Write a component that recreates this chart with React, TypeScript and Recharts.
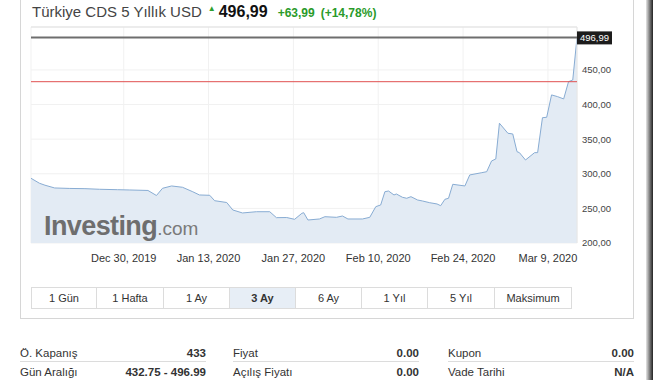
import { Area, AreaChart, CartesianGrid, ReferenceLine, XAxis, YAxis } from "recharts";

const FONT = "'Liberation Sans', Arial, sans-serif";

// day offsets from Dec 30, 2019 and CDS level
const days = [
  -15.3, -13.9, -13.0, -11.4, -8.9, -6.4, -4.0, -1.0, 1.0, 4.0, 5.4, 6.4, 7.9, 9.7, 11.4, 12.5,
  14.2, 15.0, 17.0, 18.0, 19.6, 21.9, 24.1, 25.2, 26.9, 28.2, 29.4, 29.7, 30.4, 32.3, 33.2, 35.1,
  36.1, 37.0, 39.4, 40.6, 41.6, 42.4, 43.1, 43.7, 44.6, 45.0, 46.0, 46.7, 47.4, 48.5, 49.3, 50.5,
  51.7, 52.3, 53.0, 53.6, 54.3, 56.3, 57.1, 59.1, 59.9, 60.7, 61.4, 62.0, 63.4, 64.2, 64.9, 65.3,
  66.3, 67.8, 68.3, 69.1, 69.8, 70.6, 71.6, 72.6, 73.4, 74.1, 74.8,
];
const cds = [
  293.5, 286.3, 283.5, 279.5, 278.8, 278.5, 277.6, 277.0, 276.6, 275.9, 268.6, 279.0, 282.4, 280.5, 274.0, 269.4,
  268.9, 261.1, 258.5, 247.7, 243.4, 245.2, 245.2, 236.6, 236.8, 234.2, 242.9, 243.8, 233.2, 234.7, 238.0, 237.1,
  239.0, 234.7, 234.7, 237.1, 252.5, 254.9, 274.1, 275.1, 269.4, 270.8, 266.0, 264.6, 266.9, 262.1, 260.7, 258.2,
  256.4, 253.9, 263.1, 264.6, 284.8, 282.4, 298.3, 301.6, 303.0, 318.5, 321.4, 373.0, 358.5, 357.5, 331.9, 330.5,
  319.9, 330.5, 330.5, 381.0, 381.6, 413.9, 411.4, 408.1, 433.0, 435.5, 496.99,
];

const dateTicks = [0, 14, 28, 42, 56, 70];
const dateLabels = ["Dec 30, 2019", "Jan 13, 2020", "Jan 27, 2020", "Feb 10, 2020", "Feb 24, 2020", "Mar 9, 2020"];
const priceTicks = [200, 250, 300, 350, 400, 450];
const lastPrice = 496.99;
const prevClose = 433;

const ranges = ["1 Gün", "1 Hafta", "1 Ay", "3 Ay", "6 Ay", "1 Yıl", "5 Yıl", "Maksimum"];
const rangeWidths = [65, 67, 66, 66, 66, 66, 67, 77];
const activeRange = "3 Ay";

const statLabels = [
  ["Ö. Kapanış", "Fiyat", "Kupon"],
  ["Gün Aralığı", "Açılış Fiyatı", "Vade Tarihi"],
];
const statValues = [
  ["433", "0.00", "0.00"],
  ["432.75 - 496.99", "0.00", "N/A"],
];
const statCols = [20, 233, 448];
const statWidth = 186;

const data = days.map((d, i) => ({ d, v: cds[i] }));

const comma = (n: number) => n.toFixed(2).replace(".", ",");

function PriceTag(props: any) {
  const vb = props.viewBox;
  const x = vb.x + vb.width;
  return (
    <g>
      <rect x={x} y={vb.y - 6} width={35} height={13} fill="#1c1c1c" />
      <text x={x + 17.5} y={vb.y + 3.5} textAnchor="middle" fill="#fff" fontSize={9.5} fontFamily={FONT}>
        {comma(lastPrice)}
      </text>
    </g>
  );
}

export default function App() {
  return (
    <div
      style={{
        position: "absolute",
        left: 0,
        top: 0,
        width: 660,
        height: 380,
        background: "#fff",
        fontFamily: FONT,
        overflow: "hidden",
        color: "#333",
      }}
    >
      <div
        style={{
          position: "absolute",
          left: 20,
          top: -2,
          width: 612,
          height: 319,
          border: "1px solid #d6d6d6",
        }}
      />
      <div
        style={{
          position: "absolute",
          left: 646,
          top: 0,
          width: 7,
          height: 380,
          background: "linear-gradient(to right, #e6e6e6, #777 55%, #222)",
        }}
      />

      <div style={{ position: "absolute", left: 32, top: 3, whiteSpace: "nowrap", lineHeight: "18px" }}>
        <span style={{ fontSize: 15, color: "#444" }}>Türkiye CDS 5 Yıllık USD</span>
        <span style={{ fontSize: 8, color: "#2ea02e", marginLeft: 6, position: "relative", top: -6 }}>▲</span>
        <span style={{ fontSize: 16, fontWeight: 700, color: "#111", marginLeft: 3 }}>{comma(lastPrice)}</span>
        <span style={{ fontSize: 12, fontWeight: 700, color: "#2a9a2a", marginLeft: 10 }}>+63,99</span>
        <span style={{ fontSize: 12, fontWeight: 700, color: "#2a9a2a", marginLeft: 6 }}>(+14,78%)</span>
      </div>

      <div style={{ position: "absolute", left: 0, top: 0 }}>
        <AreaChart width={660} height={275} data={data} margin={{ top: 27, right: 33, bottom: 10, left: 31 }}>
          <CartesianGrid stroke="#f1f1f1" />
          <XAxis
            type="number"
            dataKey="d"
            domain={[-15.3, 74.8]}
            ticks={dateTicks}
            interval={0}
            tickFormatter={(v: number) => dateLabels[dateTicks.indexOf(v)]}
            axisLine={false}
            tickLine={false}
            tickSize={0}
            tickMargin={11}
            height={22}
            tick={{ fontSize: 11, fill: "#333", fontFamily: FONT }}
          />
          <YAxis
            orientation="right"
            domain={[200, 512]}
            ticks={priceTicks}
            interval={0}
            tickFormatter={(v: number) => comma(v)}
            axisLine={false}
            tickLine={false}
            tickSize={0}
            tickMargin={5}
            width={50}
            tick={{ fontSize: 9.5, fill: "#444", fontFamily: FONT, textAnchor: "start" }}
          />
          <ReferenceLine y={512} stroke="#e0e0e0" />
          <ReferenceLine x={74.8} stroke="#e6e6e6" />
          <Area
            type="linear"
            dataKey="v"
            stroke="#88acd3"
            strokeWidth={1}
            fill="#e3ebf4"
            fillOpacity={1}
            dot={false}
            activeDot={false}
            isAnimationActive={false}
          />
          <ReferenceLine y={prevClose} stroke="#e05050" />
          <ReferenceLine y={lastPrice} stroke="#6e6e6e" strokeWidth={2} label={(p: any) => <PriceTag {...p} />} />
        </AreaChart>
      </div>

      <div
        style={{
          position: "absolute",
          left: 44,
          top: 213,
          lineHeight: "27px",
          whiteSpace: "nowrap",
          color: "#6e6e6e",
          pointerEvents: "none",
        }}
      >
        <span style={{ fontSize: 27, fontWeight: 700, letterSpacing: -0.6 }}>Investing</span>
        <span style={{ fontSize: 19, color: "#7a7a7a" }}>.com</span>
      </div>

      <div
        style={{
          position: "absolute",
          left: 31,
          top: 287,
          display: "flex",
          border: "1px solid #dcdcdc",
        }}
      >
        {ranges.map((r, i) => (
          <div
            key={r}
            style={{
              width: rangeWidths[i] - 1,
              height: 20,
              lineHeight: "20px",
              textAlign: "center",
              fontSize: 11,
              borderRight: i < ranges.length - 1 ? "1px solid #dcdcdc" : "none",
              background: r === activeRange ? "#e7eef6" : "#fff",
              fontWeight: r === activeRange ? 700 : 400,
              color: "#333",
            }}
          >
            {r}
          </div>
        ))}
      </div>

      {statLabels.map((row, ri) =>
        row.map((label, ci) => (
          <div
            key={label}
            style={{
              position: "absolute",
              left: statCols[ci],
              top: 345 + ri * 19,
              width: statWidth,
              height: 16,
              lineHeight: "16px",
              fontSize: 11.5,
              display: "flex",
              justifyContent: "space-between",
              borderBottom: ri === 0 ? "1px solid #dcdcdc" : "none",
              color: "#333",
            }}
          >
            <span>{label}</span>
            <span style={{ fontWeight: 700 }}>{statValues[ri][ci]}</span>
          </div>
        ))
      )}
    </div>
  );
}
